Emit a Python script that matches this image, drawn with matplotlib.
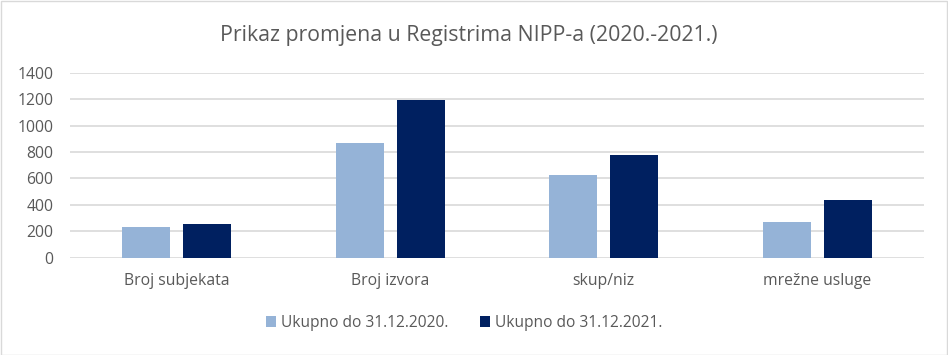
import matplotlib
matplotlib.use("Agg")
import matplotlib.pyplot as plt
import numpy as np
from matplotlib.patches import Rectangle

categories = ["Broj subjekata", "Broj izvora", "skup/niz", "mrežne usluge"]
series_names = ["Ukupno do 31.12.2020.", "Ukupno do 31.12.2021."]
values_2020 = [235, 870, 628, 272]
values_2021 = [258, 1190, 778, 438]
yticks = [0, 200, 400, 600, 800, 1000, 1200, 1400]
title = "Prikaz promjena u Registrima NIPP-a (2020.-2021.)"

plt.rcParams['font.family'] = ['Open Sans', 'DejaVu Sans']

fig = plt.figure(figsize=(9.48, 3.55), dpi=100)
W, H = 948, 355
ax = fig.add_axes([70 / W, 1 - 257.7 / H, (924 - 70) / W, (257.7 - 72.7) / H])

x = np.arange(len(categories))
bw = 0.225
gap = 0.06
c1 = "#95B3D7"
c2 = "#002060"
ax.bar(x - (bw + gap) / 2, values_2020, bw, color=c1, label=series_names[0], zorder=3)
ax.bar(x + (bw + gap) / 2, values_2021, bw, color=c2, label=series_names[1], zorder=3)

ax.set_xlim(-0.5, len(categories) - 0.5)
ax.set_ylim(0, 1400)
ax.set_yticks(yticks)
ax.set_yticklabels([str(v) for v in yticks])
ax.set_xticks(x)
ax.set_xticklabels(categories)
ax.tick_params(axis='both', length=0, labelsize=11.3, colors="#595959")
ax.tick_params(axis='x', pad=11)
ax.tick_params(axis='y', pad=12)
ax.grid(axis='y', color="#D9D9D9", linewidth=1.2, zorder=0)
for s in ax.spines.values():
    s.set_visible(False)

fig.text(0.5 - 5 / W, 1 - 35 / H, title, ha='center', va='center', fontsize=15.3, color="#595959")

leg = fig.legend(loc='center', bbox_to_anchor=(0.5 - 10 / W, 1 - 323 / H), ncol=2, frameon=False,
                 fontsize=11.2, handlelength=0.7, handleheight=0.7, handletextpad=0.3,
                 columnspacing=2.0, labelcolor="#595959")

fig.patches.append(Rectangle((0.5 / W, 0.5 / H), 1 - 1.5 / W, 1 - 1.5 / H, transform=fig.transFigure,
                             fill=False, edgecolor="#D9D9D9", linewidth=1))

fig.savefig("out.png", dpi=100)
